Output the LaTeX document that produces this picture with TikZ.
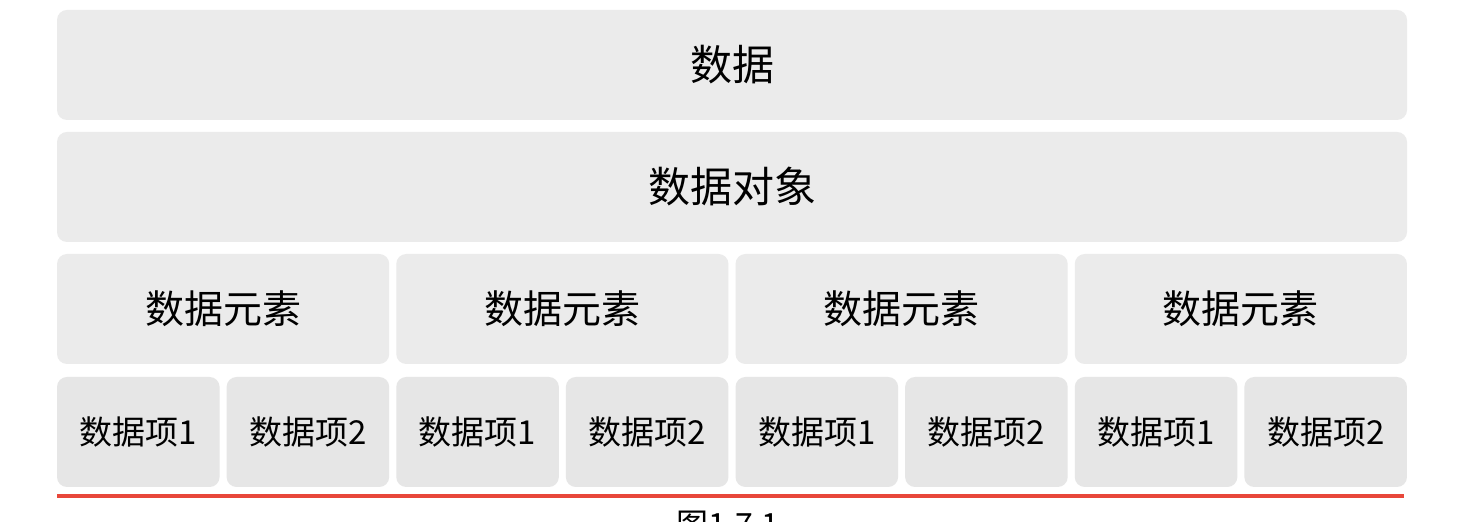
\documentclass[tikz,border=0pt]{standalone}
\usepackage{fontspec}
\newfontfamily\cjk{Noto Sans CJK SC}
\definecolor{boxfill}{HTML}{EBEBEB}
\definecolor{boxfilldark}{HTML}{E6E6E6}
\definecolor{redline}{HTML}{E8473A}
\begin{document}
\begin{tikzpicture}[x=0.5pt,y=-0.5pt,
  blk/.style={fill=boxfill, draw=none, rounded corners=5pt, inner sep=0pt, font=\cjk},
  itm/.style={blk, fill=boxfilldark, minimum width=81.3pt, minimum height=55pt, font=\cjk\fontsize{16.5}{18}\selectfont}]
\useasboundingbox (0,0) rectangle (1458,522);
\fill[white] (0,0) rectangle (1458,522);
\node[blk, minimum width=675pt, minimum height=55pt, font=\cjk\fontsize{21}{24}\selectfont] (data) at (732,65) {数据};
\node[blk, minimum width=675pt, minimum height=55pt, font=\cjk\fontsize{21}{24}\selectfont] (obj) at (732,187) {数据对象};
\foreach \i in {0,...,3} {
  \node[blk, minimum width=166.1pt, minimum height=55pt, font=\cjk\fontsize{19.5}{22}\selectfont] (e\i) at ({57+166.125+\i*339.25},309) {数据元素};
}
\foreach \i in {0,...,3} {
  \node[itm] (a\i) at ({57+81.3+\i*339.25},432) {数据项1};
  \node[itm] (b\i) at ({57+162.6+7+81.3+\i*339.25},432) {数据项2};
}
\coordinate (rl) at (57,496);
\coordinate (rr) at (1404,496);
\draw[redline, line width=2pt] (rl) -- (rr);
\node[anchor=north, font=\cjk\fontsize{16}{18}\selectfont, inner sep=0pt] (cap) at (728,511) {图1.7.1};
\end{tikzpicture}
\end{document}
